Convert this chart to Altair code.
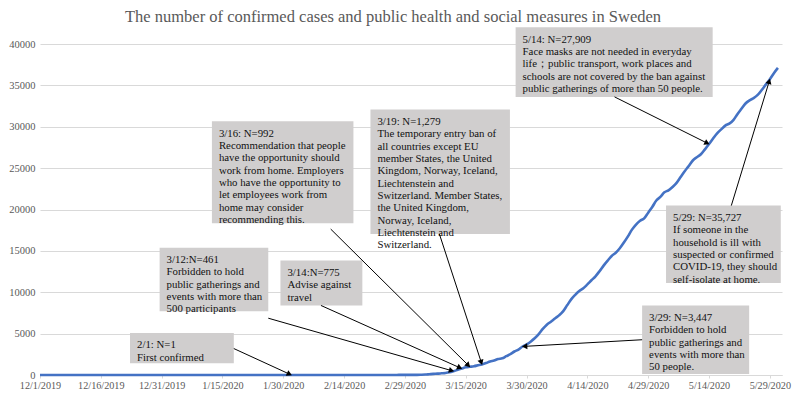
import math
import altair as alt
import pandas as pd

title_text = "The number of confirmed cases and public health and social measures in Sweden"

first_day = "2019-12-01"
last_day = "2020-05-31"

# cumulative confirmed cases, one value per day from 12/1/2019 to 5/31/2020
cases = [
    # December 2019
    0, 0, 0, 0, 0, 0, 0, 0, 0, 0, 0, 0, 0, 0, 0, 0, 0, 0, 0, 0, 0, 0, 0, 0, 0, 0, 0, 0, 0, 0, 0,
    # January 2020
    0, 0, 0, 0, 0, 0, 0, 0, 0, 0, 0, 0, 0, 0, 0, 0, 0, 0, 0, 0, 0, 0, 0, 0, 0, 0, 0, 0, 0, 0, 0,
    # February 2020
    1, 1, 1, 1, 1, 1, 1, 1, 1, 1, 1, 1, 1, 1, 1, 1, 1, 1, 1, 1, 1, 1, 1, 1, 1, 2, 7, 12, 13,
    # March 2020
    14, 14, 15, 30, 52, 94, 137, 161, 203, 248, 326, 461, 620, 775, 924, 992, 1059, 1167, 1279,
    1439, 1639, 1746, 1934, 2016, 2272, 2510, 2840, 3069, 3447, 3700, 4028,
    # April 2020
    4435, 4947, 5568, 6078, 6443, 6830, 7206, 7693, 8419, 9141, 9685, 10151, 10483, 10948, 11445,
    11927, 12540, 13216, 13822, 14385, 14777, 15322, 16004, 16755, 17567, 18177, 18640, 18926,
    19621, 20302,
    # May 2020
    21092, 21520, 22082, 22317, 22721, 23216, 23918, 24623, 25265, 25921, 26322, 26670, 27272,
    27909, 28582, 29207, 29677, 30143, 30377, 30799, 31523, 32172, 32809, 33188, 33459, 33843,
    34440, 35088, 35727, 36476, 37113,
]

tick_days = [0, 15, 30, 45, 60, 75, 90, 105, 120, 135, 150, 165, 180]
tick_labels = ["12/1/2019", "12/16/2019", "12/31/2019", "1/15/2020", "1/30/2020", "2/14/2020",
               "2/29/2020", "3/15/2020", "3/30/2020", "4/14/2020", "4/29/2020", "5/14/2020",
               "5/29/2020"]
y_ticks = [0, 5000, 10000, 15000, 20000, 25000, 30000, 35000, 40000]

ann_dates = ["2020-02-01", "2020-03-12", "2020-03-14", "2020-03-16", "2020-03-19",
             "2020-03-29", "2020-05-14", "2020-05-29"]
ann_counts = [1, 461, 775, 992, 1279, 3447, 27909, 35727]
ann_texts = [
    "2/1: N=1\nFirst confirmed",
    "3/12:N=461\nForbidden to hold\npublic gatherings and\nevents with more than\n500 participants",
    "3/14:N=775\nAdvise against\ntravel",
    "3/16: N=992\nRecommendation that people\nhave the opportunity should\nwork from home. Employers\n"
    "who have the opportunity to\nlet employees work from\nhome may consider\nrecommending this.",
    "3/19: N=1,279\nThe temporary entry ban of\nall countries except EU\nmember States, the United\n"
    "Kingdom, Norway, Iceland,\nLiechtenstein and\nSwitzerland. Member States,\nthe United Kingdom,\n"
    "Norway, Iceland,\nLiechtenstein and\nSwitzerland.",
    "3/29: N=3,447\nForbidden to hold\npublic gatherings and\nevents with more than\n50 people.",
    "5/14: N=27,909\nFace masks are not needed in everyday\nlife；public transport, work places and\n"
    "schools are not covered by the ban against\npublic gatherings of more than 50 people.",
    "5/29: N=35,727\nIf someone in the\nhousehold is ill with\nsuspected or confirmed\n"
    "COVID-19, they should\nself-isolate at home.",
]
# callout boxes in axis units (days since 12/1/2019, case counts)
box_left = [22.2, 29.5, 59.3, 42.4, 81.5, 148.5, 117.3, 154.4]
box_right = [47.8, 56.3, 79.5, 77.3, 115.9, 174.9, 165.9, 182.7]
box_top = [5089, 15385, 13846, 30651, 32071, 8402, 42012, 20473]
box_bottom = [1420, 7692, 8402, 18343, 17041, 118, 33609, 11124]
# where each arrow starts
tail_day = [47.8, 56.3, 69.3, 71.7, 98.5, 148.5, 141.7, 170.5]
tail_count = [3195, 6864, 8402, 17633, 17041, 4260, 33609, 20473]

# ---------------------------------------------------------------- layout
W, H = 742, 331
X_MAX, Y_MAX = 183, 40000
ppd = W / X_MAX          # pixels per day
ppv = H / Y_MAX          # pixels per case
FONT = "Liberation Serif"

start = pd.Timestamp(first_day)
days = list(range(len(pd.date_range(first_day, last_day, freq="D"))))
line_df = pd.DataFrame({"day": days, "cases": cases})

ann_day = [(pd.Timestamp(d) - start).days for d in ann_dates]
rows = []
for i in range(len(ann_dates)):
    dx = (ann_day[i] - tail_day[i]) * ppd
    dy = -(ann_counts[i] - tail_count[i]) * ppv
    L = math.hypot(dx, dy)
    ux, uy = dx / L, dy / L
    ang = math.degrees(math.atan2(dx, -dy)) % 360
    back = 3.0
    rows.append({
        "x1": box_left[i], "x2": box_right[i], "y1": box_top[i], "y2": box_bottom[i],
        "tx": box_left[i] + 7 / ppd, "ty": box_top[i] - 6.5 / ppv,
        "text": ann_texts[i],
        "tail_x": tail_day[i], "tail_y": tail_count[i],
        "tip_x": ann_day[i], "tip_y": ann_counts[i],
        "head_x": ann_day[i] - ux * back / ppd, "head_y": ann_counts[i] + uy * back / ppv,
        "angle": ang,
    })
ann_df = pd.DataFrame(rows)

label_expr = "[" + ",".join(f"'{t}'" for t in tick_labels) + "][round(datum.value / 15)]"

xscale = alt.Scale(domain=[0, X_MAX], nice=False, zero=False)
yscale = alt.Scale(domain=[0, Y_MAX], nice=False)

line = alt.Chart(line_df).mark_line(color="#4472C4", strokeWidth=2.6, interpolate="monotone").encode(
    x=alt.X("day:Q", scale=xscale,
            axis=alt.Axis(values=tick_days, labelExpr=label_expr, title=None, grid=False,
                          domainColor="#d9d9d9", tickColor="#d9d9d9", tickSize=3,
                          labelFont=FONT, labelFontSize=10.2, labelColor="#595959",
                          labelPadding=2, labelFlush=False, labelOverlap=False)),
    y=alt.Y("cases:Q", scale=yscale,
            axis=alt.Axis(values=y_ticks, format="d", title=None, domain=False, ticks=False,
                          gridColor="#d9d9d9", labelFont=FONT, labelFontSize=10.5,
                          labelColor="#595959", labelPadding=5)),
)

boxes = alt.Chart(ann_df).mark_rect(color="#d0cece").encode(
    x=alt.X("x1:Q", scale=xscale), x2="x2:Q",
    y=alt.Y("y1:Q", scale=yscale), y2="y2:Q",
)

texts = alt.Chart(ann_df).mark_text(
    align="left", baseline="top", lineBreak="\n", lineHeight=12.3,
    font=FONT, fontSize=10.8, color="#111111",
).encode(
    x=alt.X("tx:Q", scale=xscale), y=alt.Y("ty:Q", scale=yscale), text="text:N",
)

arrows = alt.Chart(ann_df).mark_rule(color="black", strokeWidth=1).encode(
    x=alt.X("tail_x:Q", scale=xscale), y=alt.Y("tail_y:Q", scale=yscale),
    x2="head_x:Q", y2="head_y:Q",
)

heads = alt.Chart(ann_df).mark_point(shape="triangle", filled=True, size=38, color="black",
                                     opacity=1).encode(
    x=alt.X("head_x:Q", scale=xscale), y=alt.Y("head_y:Q", scale=yscale),
    angle=alt.Angle("angle:Q", scale=None),
)

chart = alt.layer(line, boxes, texts, arrows, heads).properties(
    width=W, height=H,
    autosize="none",
    padding={"left": 32, "top": 36, "right": 10, "bottom": 17},
    title=alt.TitleParams(text=title_text, font=FONT, fontSize=16.5, fontWeight="normal",
                          color="#595959", anchor="middle", frame="group", dx=-18, offset=2),
).configure_view(stroke=None)

chart.save("out.html", embed_options={"renderer": "svg", "actions": False})
